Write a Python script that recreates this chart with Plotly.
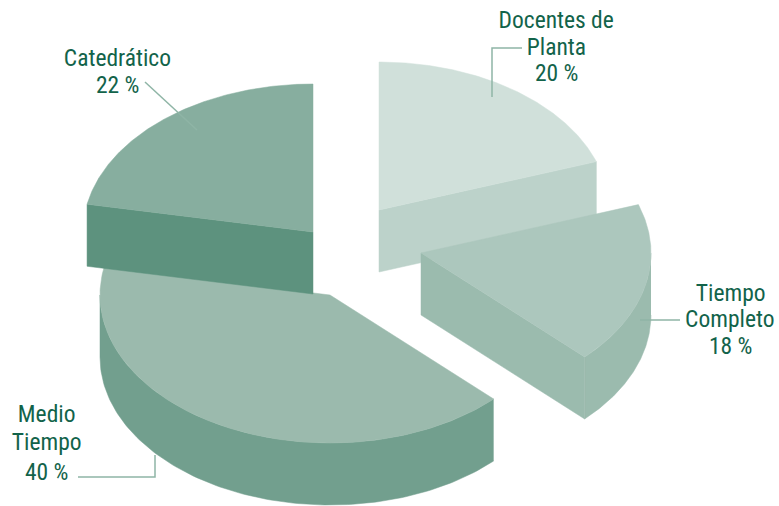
import numpy as np
import plotly.graph_objects as go

categories = ["Docentes de Planta", "Tiempo Completo", "Medio Tiempo", "Catedrático"]
shares = [19.7, 17.7, 40.6, 22.0]
label_lines = [["Docentes de", "Planta", "20 %"],
               ["Tiempo", "Completo", "18 %"],
               ["Medio", "Tiempo", "40 %"],
               ["Catedrático", "22 %"]]

# Style / layout
W, H = 779, 506
RX, RY, DEPTH = 230, 148, 62
apex = {"Docentes de Planta": (379, 210), "Tiempo Completo": (421, 253),
        "Medio Tiempo": (330, 295), "Catedrático": (313, 232)}
top_col = {"Docentes de Planta": "#d0e0da", "Tiempo Completo": "#acc7bd",
           "Medio Tiempo": "#9bbaad", "Catedrático": "#87ae9f"}
wall_col = {"Docentes de Planta": "#bcd2ca", "Tiempo Completo": "#9bbbae",
            "Medio Tiempo": "#729f8e", "Catedrático": "#5d927e"}
draw_order = ["Medio Tiempo", "Catedrático", "Docentes de Planta", "Tiempo Completo"]
TEXT = "#12634a"
LEADER = "#8fb5a6"
FONT = "Roboto"
label_pos = {"Docentes de Planta": (556, [20, 47, 73]),
             "Tiempo Completo": (730, [293, 319, 346]),
             "Medio Tiempo": (46, [414, 442, 472]),
             "Catedrático": (117, [58, 85])}
leaders = [([522, 492, 492], [48, 48, 97]),
           ([640, 680], [320, 320]),
           ([78, 155, 155], [477, 477, 455]),
           ([145, 197], [82, 130])]

cum = np.cumsum([0] + shares) / sum(shares) * 2 * np.pi
bounds = {c: (cum[i], cum[i + 1]) for i, c in enumerate(categories)}


def rim(c, t):
    ax, ay = apex[c]
    return ax + RX * np.sin(t), ay - RY * np.cos(t)


fig = go.Figure()


def poly(x, y, color):
    fig.add_trace(go.Scatter(x=list(x), y=list(y), mode="lines", fill="toself", fillcolor=color,
                             line=dict(color=color, width=0.5), hoverinfo="skip", showlegend=False))


for c in draw_order:
    t0, t1 = bounds[c]
    ax, ay = apex[c]
    # outer wall: front half of the rim only
    a, b = max(t0, np.pi / 2), min(t1, 3 * np.pi / 2)
    if b > a:
        t = np.linspace(a, b, 120)
        rx, ry = rim(c, t)
        poly(np.r_[rx, rx[::-1]], np.r_[ry, ry[::-1] + DEPTH], wall_col[c])
    # cut wall facing the viewer
    edge = t0 if c == "Catedrático" else t1
    if c != "Medio Tiempo":
        ex, ey = rim(c, edge)
        poly([ax, ex, ex, ax, ax], [ay, ey, ey + DEPTH, ay + DEPTH, ay], wall_col[c])
    # top face
    t = np.linspace(t0, t1, 160)
    rx, ry = rim(c, t)
    poly(np.r_[ax, rx, ax], np.r_[ay, ry, ay], top_col[c])

for lx, ly in leaders:
    fig.add_trace(go.Scatter(x=lx, y=ly, mode="lines", line=dict(color=LEADER, width=1.5),
                             hoverinfo="skip", showlegend=False))

for c, lines in zip(categories, label_lines):
    x, ys = label_pos[c]
    for line, y in zip(lines, ys):
        fig.add_annotation(x=x, y=y, text=line, showarrow=False, xanchor="center", yanchor="middle",
                           font=dict(family=FONT, size=23.5, color=TEXT))

fig.update_layout(width=W, height=H, margin=dict(l=0, r=0, t=0, b=0), paper_bgcolor="white",
                  plot_bgcolor="white", showlegend=False,
                  xaxis=dict(range=[0, W], visible=False, fixedrange=True),
                  yaxis=dict(range=[H, 0], visible=False, fixedrange=True))
post = """
document.body.style.margin='0';
document.documentElement.style.overflow='hidden';
var st=document.createElement('style');
st.textContent='.annotation-text{font-stretch:75%!important;}';
document.head.appendChild(st);
"""
fig.write_html("out.html", config={"displayModeBar": False}, post_script=post)
